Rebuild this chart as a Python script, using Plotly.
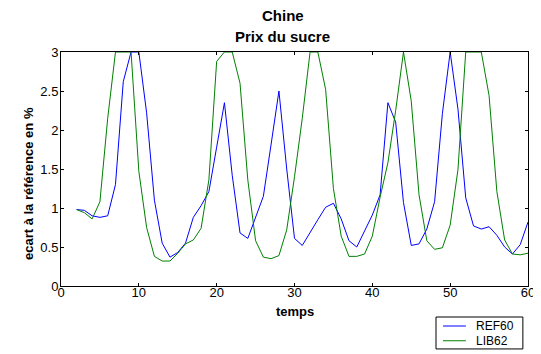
import plotly.graph_objects as go

temps = list(range(2, 61))

ref60 = [0.98, 0.97, 0.90, 0.88, 0.90, 1.30, 2.62, 3.0, 3.0, 2.22,
         1.10, 0.55, 0.37, 0.43, 0.55, 0.88, 1.03, 1.21, 1.78, 2.35,
         1.42, 0.68, 0.61, 0.88, 1.15, 1.82, 2.50, 1.50, 0.61, 0.52,
         0.69, 0.85, 1.01, 1.06, 0.86, 0.58, 0.50, 0.70, 0.91, 1.17,
         2.35, 2.10, 1.07, 0.52, 0.54, 0.73, 1.08, 2.21, 3.0, 2.27,
         1.13, 0.77, 0.73, 0.76, 0.65, 0.50, 0.41, 0.53, 0.82]

lib62 = [0.98, 0.94, 0.86, 1.08, 2.15, 3.0, 3.0, 3.0, 1.47, 0.75,
         0.38, 0.32, 0.32, 0.42, 0.54, 0.59, 0.74, 1.36, 2.88, 3.0,
         3.0, 2.60, 1.36, 0.58, 0.37, 0.35, 0.39, 0.72, 1.40, 2.15,
         3.0, 3.0, 2.52, 1.25, 0.64, 0.38, 0.38, 0.41, 0.64, 1.14,
         1.58, 2.25, 3.0, 2.37, 1.17, 0.58, 0.47, 0.49, 0.78, 1.49,
         3.0, 3.0, 3.0, 2.44, 1.21, 0.59, 0.41, 0.40, 0.42]

series_names = ["REF60", "LIB62"]
series_colors = ["#0000FF", "#008000"]

x_ticks = [0, 10, 20, 30, 40, 50, 60]
y_ticks = [0, 0.5, 1, 1.5, 2, 2.5, 3]

FONT = "Liberation Sans, Arial, sans-serif"

fig = go.Figure()
for name, vals, col in zip(series_names, [ref60, lib62], series_colors):
    fig.add_trace(go.Scatter(x=temps, y=vals, mode="lines", name=name,
                             line=dict(color=col, width=1)))

axis_common = dict(showline=True, linecolor="black", linewidth=1, mirror="ticks",
                   ticks="inside", ticklen=3, tickcolor="black", showgrid=False,
                   zeroline=False, tickfont=dict(family=FONT, size=13, color="black"))

fig.update_xaxes(range=[0, 60], tickvals=x_ticks, ticklabelstandoff=-6, **axis_common)
fig.update_yaxes(range=[0, 3], tickvals=y_ticks, ticklabelstandoff=-1, **axis_common)

# legend box (drawn in paper coordinates, below the axes, like the original)
shapes = [dict(type="rect", xref="paper", yref="paper", x0=0.803, x1=0.989,
               y0=-0.269, y1=-0.1325, line=dict(color="black", width=1),
               fillcolor="white")]
annotations = []
leg_y = [-0.171, -0.234]
for name, col, yy in zip(series_names, series_colors, leg_y):
    shapes.append(dict(type="line", xref="paper", yref="paper", x0=0.818, x1=0.867,
                       y0=yy, y1=yy, line=dict(color=col, width=1)))
    annotations.append(dict(text=name, x=0.884, y=yy, xref="paper", yref="paper",
                            xanchor="left", yanchor="middle", showarrow=False,
                            font=dict(family=FONT, size=12, color="black")))

annotations += [
    dict(text="<b>Chine</b>", x=0.475, y=1.158, xref="paper", yref="paper",
         xanchor="center", yanchor="middle", showarrow=False,
         font=dict(family=FONT, size=15, color="black")),
    dict(text="<b>Prix du sucre</b>", x=0.475, y=1.068, xref="paper", yref="paper",
         xanchor="center", yanchor="middle", showarrow=False,
         font=dict(family=FONT, size=15, color="black")),
    dict(text="<b>temps</b>", x=0.5, y=-0.111, xref="paper", yref="paper",
         xanchor="center", yanchor="middle", showarrow=False,
         font=dict(family=FONT, size=13, color="black")),
    dict(text="<b>ecart à la référence en %</b>", x=-0.0707, y=0.44,
         xref="paper", yref="paper", textangle=-90,
         xanchor="center", yanchor="middle", showarrow=False,
         font=dict(family=FONT, size=13, color="black")),
]

# The page adds an 8 px body margin, so the figure is 8 px smaller and its
# margins are reduced by 8 px to keep the axes where the original has them.
fig.update_layout(
    width=533, height=346,
    margin=dict(l=53, r=13, t=44, b=68, autoexpand=False),
    paper_bgcolor="white", plot_bgcolor="white",
    font=dict(family=FONT, color="black"),
    showlegend=False,
    shapes=shapes,
    annotations=annotations,
)

fig.write_html("out.html")
